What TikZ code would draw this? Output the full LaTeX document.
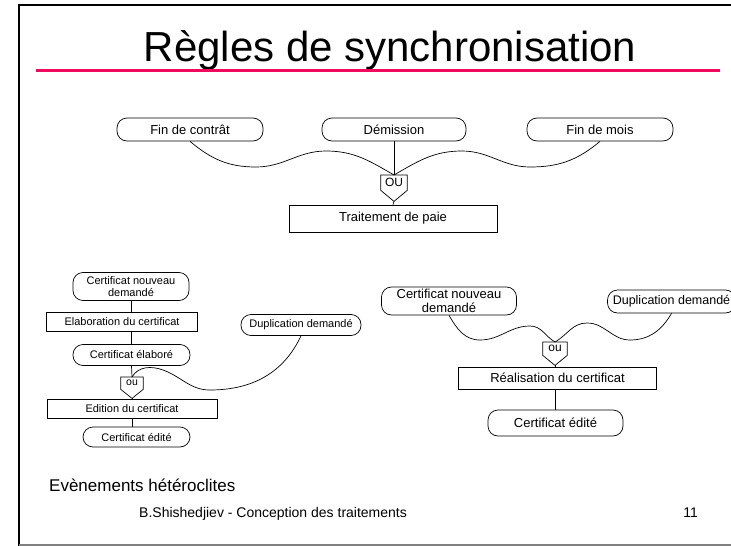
\documentclass[tikz,border=0pt]{standalone}
\usepackage{fontspec}
\setmainfont{Liberation Sans}
\usetikzlibrary{calc}
\definecolor{titlered}{RGB}{240,10,95}
\definecolor{framegray}{RGB}{128,128,128}
\begin{document}
\begin{tikzpicture}[x=1pt,y=-1pt,
  ev/.style={draw, rounded corners=10pt, line width=0.7pt, inner sep=0pt, align=center},
  proc/.style={draw, rectangle, line width=0.7pt, inner sep=0pt},
  ougate/.style={rectangle, inner sep=0pt, anchor=north},
  conn/.style={line width=0.7pt},
  ftop/.style={font=\fontsize{13}{15}\selectfont},
  fleft/.style={font=\fontsize{11}{12.5}\selectfont},
  fright/.style={font=\fontsize{13}{14.5}\selectfont}]
\useasboundingbox (0,0) rectangle (731,546);
% frame
\draw[line width=2.5pt] (19,546) -- (19,5) -- (731,5);
\draw[framegray, line width=1.5pt] (19,545) -- (731,545);
% title
\node[font=\fontsize{42}{46}\selectfont, anchor=base] (title) at (390,61) {Règles de synchronisation};
\draw[titlered, line width=3pt] (36,70) -- (720,70);
% top section
\node[ev, ftop, minimum width=146pt, minimum height=23pt] (fc) at (190,129.5) {Fin de contrât};
\node[ev, ftop, minimum width=144pt, minimum height=23pt] (dm) at (394,129.5) {Démission};
\node[ev, ftop, minimum width=146pt, minimum height=23pt] (fm) at (600,129.5) {Fin de mois};
\node[ougate, font=\fontsize{12}{13}\selectfont, minimum width=26pt, minimum height=15pt] (ou1) at (394,175) {OU};
\coordinate (ou1t) at ($(ou1.south)+(0,11)$);
\draw[conn] (ou1.north west) -- (ou1.north east) -- (ou1.south east) -- (ou1t) -- (ou1.south west) -- cycle;
\node[proc, ftop, minimum width=208pt, minimum height=27pt] (tp) at (393,218.5) {Traitement de paie};
\draw[conn] (dm.south) -- (ou1.north);
\draw[conn] (fc.south) to[out=-40,in=180] (256,167) to[out=0,in=180] (326,151) to[out=0,in=150] (ou1.north);
\draw[conn] (fm.south) to[out=-140,in=0] (530,167) to[out=180,in=0] (462,151) to[out=180,in=30] (ou1.north);
\draw[conn] (ou1t) -- (tp.north);
% left section
\node[ev, fleft, minimum width=116pt, minimum height=28pt] (cn) at (131,286.5) {Certificat nouveau\\demandé};
\node[proc, fleft, minimum width=151pt, minimum height=19pt] (elab) at (122,322) {Elaboration du certificat};
\node[ev, fleft, minimum width=120pt, minimum height=21pt] (dup) at (301,325) {Duplication demandé};
\node[ev, fleft, minimum width=117pt, minimum height=21pt] (ce) at (131.5,355) {Certificat élaboré};
\node[ougate, font=\fontsize{10.5}{12}\selectfont, minimum width=22pt, minimum height=12pt] (ou2) at (132,377) {ou};
\coordinate (ou2t) at ($(ou2.south)+(0,9)$);
\draw[conn] (ou2.north west) -- (ou2.north east) -- (ou2.south east) -- (ou2t) -- (ou2.south west) -- cycle;
\node[proc, fleft, minimum width=170pt, minimum height=19pt] (edit) at (132,408.5) {Edition du certificat};
\node[ev, fleft, minimum width=107pt, minimum height=20pt] (ced) at (136.5,437) {Certificat édité};
\draw[conn] (cn.south) -- (cn.south |- elab.north);
\draw[conn] (ce.north |- elab.south) -- (ce.north);
\draw[conn] (ce.south) -- (ou2.north);
\draw[conn] (ou2t) -- (ou2t |- edit.north);
\draw[conn] (edit.south -| ou2t) -- (ou2t |- ced.north);
\draw[conn] (dup.south) to[out=-115,in=0] (210,390) to[out=180,in=-20] (163,370) to[out=160,in=60] (ou2.north);
% right section
\node[ev, fright, minimum width=135pt, minimum height=28pt] (cn2) at (449,301) {Certificat nouveau\\demandé};
\node[ev, font=\fontsize{12.5}{14}\selectfont, minimum width=128pt, minimum height=23pt] (dup2) at (671.5,301.5) {Duplication demandé};
\node[ougate, font=\fontsize{12}{13}\selectfont, minimum width=24pt, minimum height=13pt] (ou3) at (555,342) {ou};
\coordinate (ou3t) at ($(ou3.south)+(0,10)$);
\draw[conn] (ou3.north west) -- (ou3.north east) -- (ou3.south east) -- (ou3t) -- (ou3.south west) -- cycle;
\node[proc, fright, minimum width=198pt, minimum height=22pt] (real) at (557.5,378) {Réalisation du certificat};
\node[ev, fright, minimum width=135pt, minimum height=26pt] (ced2) at (555.5,423) {Certificat édité};
\draw[conn] (cn2.south) to[out=-60,in=180] (480,340) to[out=0,in=180] (530,326) to[out=0,in=150] (ou3.north);
\draw[conn] (dup2.south) to[out=-120,in=0] (630,340) to[out=180,in=0] (587,323) to[out=180,in=30] (ou3.north);
\draw[conn] (ou3t) -- (ou3t |- real.north);
\draw[conn] (real.south -| ou3t) -- (ou3t |- ced2.north);
% footer
\node[font=\fontsize{17}{19}\selectfont, anchor=base west, inner sep=0pt] (ev) at (49,491) {Evènements hétéroclites};
\node[font=\fontsize{14}{16}\selectfont, anchor=base west, inner sep=0pt] (auth) at (139,517) {B.Shishedjiev - Conception des traitements};
\node[font=\fontsize{14}{16}\selectfont, anchor=base east, inner sep=0pt] (pg) at (698,517) {11};
\end{tikzpicture}
\end{document}
